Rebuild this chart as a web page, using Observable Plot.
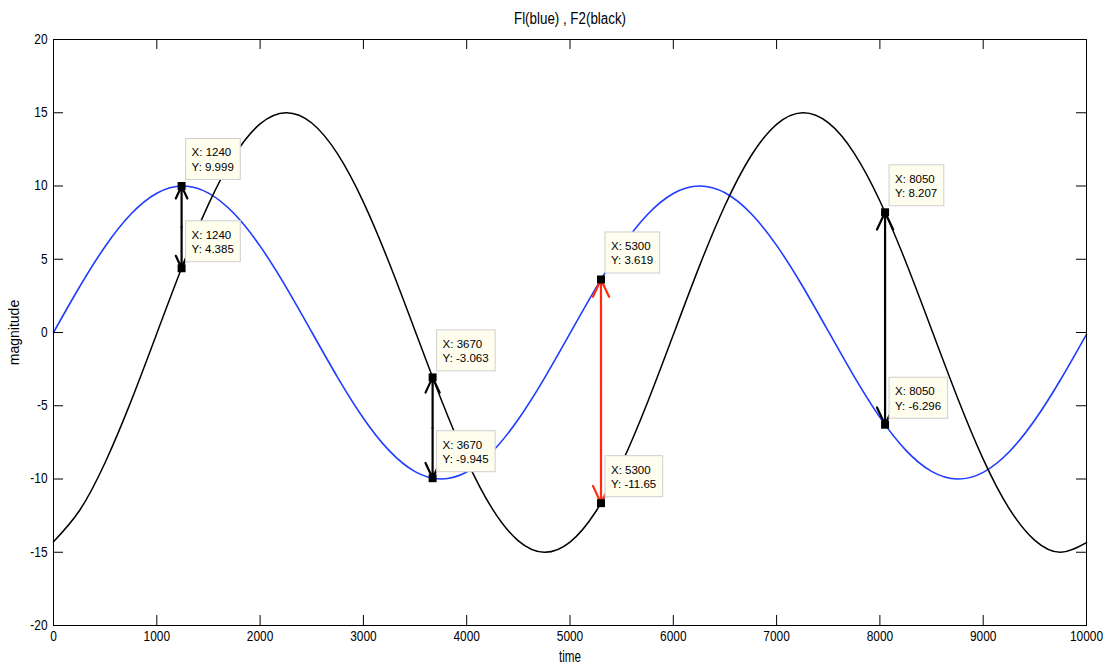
<!DOCTYPE html>
<html><head><meta charset="utf-8">
<script src="https://cdn.jsdelivr.net/npm/d3@7"></script>
<script src="https://cdn.jsdelivr.net/npm/@observablehq/plot@0.6"></script>
<style>
body{margin:0;background:#fff;}
</style></head><body><div id="chart"></div>
<script>
const time = [0,250,500,750,1000,1250,1500,1750,2000,2250,2500,2750,3000,3250,3500,3750,4000,4250,4500,4750,5000,5250,5500,5750,6000,6250,6500,6750,7000,7250,7500,7750,8000,8250,8500,8750,9000,9250,9500,9750,10000];
const f1 = [0,3.087,5.874,8.087,9.507,10.0,9.516,8.104,5.898,3.116,0.031,-3.057,-5.848,-8.066,-9.497,-10.0,-9.526,-8.122,-5.924,-3.147,-0.063,3.027,5.821,8.05,9.487,10.0,9.536,8.139,5.948,3.176,0.094,-2.997,-5.795,-8.029,-9.477,-9.999,-9.545,-8.158,-5.972,-3.206,-0.126];
const f2 = [-14.28,-12.17,-8.87,-4.70,-0.07,4.57,8.75,12.08,14.24,15.0,14.30,12.19,8.90,4.74,0.12,-4.52,-8.71,-12.06,-14.22,-15.0,-14.31,-12.22,-8.94,-4.78,-0.16,4.48,8.67,12.03,14.21,15.0,14.32,12.25,8.98,4.83,0.21,-4.43,-8.64,-12.0,-14.19,-15.0,-14.34];
const xTicks = [0,1000,2000,3000,4000,5000,6000,7000,8000,9000,10000];
const yTicks = [-20,-15,-10,-5,0,5,10,15,20];
const tipX = [1240,1240,3670,3670,5300,5300,8050,8050];
const tipY = [9.999,4.385,-3.063,-9.945,3.619,-11.65,8.207,-6.296];
const tipYLabel = ["9.999","4.385","-3.063","-9.945","3.619","-11.65","8.207","-6.296"];
const arrowX = [1240,3670,5300,8050];
const arrowLow = [4.385,-9.945,-11.65,-6.296];
const arrowHigh = [9.999,-3.063,3.619,8.207];
const arrowColor = ["black","black","#ff2a10","black"];
const titleText = "Fl(blue) , F2(black)";
const xLabel = "time";
const yLabel = "magnitude";

const lineData1 = time.map((t,i)=>({t, v:f1[i]}));
const lineData2 = time.map((t,i)=>({t, v:f2[i]}));
const tips = tipX.map((x,i)=>({x, y:tipY[i], label:`X: ${x}\nY: ${tipYLabel[i]}`}));
const arrows = arrowX.map((x,i)=>({x, lo:arrowLow[i], hi:arrowHigh[i], mid:(arrowLow[i]+arrowHigh[i])/2, c:arrowColor[i]}));

const W = 1107, H = 671, ML = 53, MR = 21, MT = 39, MB = 46;
const PW = W-ML-MR, PH = H-MT-MB;
const TL = 10;
const FONT = "Liberation Sans";
const tipFontSize = 11.5;
const tickFontSize = 14;

const measureCtx = document.createElement("canvas").getContext("2d");
function textW(s, size){ measureCtx.font = `${size}px '${FONT}'`; return measureCtx.measureText(s).width; }

function tipBoxes(...args) {
  const s = args.find(a => a && typeof a.x === "function" && typeof a.y === "function");
  const g = d3.create("svg:g").attr("aria-label", "tip boxes");
  for (const d of tips) {
    const px = s.x(d.x), py = s.y(d.y);
    const w = Math.max(...d.label.split("\n").map(l => textW(l, tipFontSize)));
    g.append("rect")
      .attr("x", px + 4.5).attr("y", py - 47)
      .attr("width", w + 12.5).attr("height", 41)
      .attr("fill", "#fffdee").attr("stroke", "#cfcfcf").attr("stroke-width", 1);
  }
  return g.node();
}

const chart = Plot.plot({
  width: W, height: H,
  marginLeft: ML, marginRight: MR, marginTop: MT, marginBottom: MB,
  style: {background:"#fff", overflow:"visible", fontFamily: FONT},
  x: {domain:[0,10000]},
  y: {domain:[-20,20]},
  marks: [
    Plot.line(lineData1, {x:"t", y:"v", stroke:"#1f3cff", strokeWidth:1.6, curve:"natural"}),
    Plot.line(lineData2, {x:"t", y:"v", stroke:"#000", strokeWidth:1.5, curve:"natural"}),
    Plot.frame({stroke:"#000", strokeWidth:1}),
    Plot.tickX(xTicks, {x:d=>d, insetBottom:PH-TL, stroke:"#000"}),
    Plot.tickX(xTicks, {x:d=>d, insetTop:PH-TL, stroke:"#000"}),
    Plot.tickY(yTicks, {y:d=>d, insetRight:PW-TL, stroke:"#000"}),
    Plot.tickY(yTicks, {y:d=>d, insetLeft:PW-TL, stroke:"#000"}),
    Plot.axisX(xTicks, {anchor:"bottom", tickSize:0, tickPadding:6, tickFormat:d=>String(d), label:null, fontSize:tickFontSize}),
    Plot.axisY(yTicks, {anchor:"left", tickSize:0, tickPadding:6, tickFormat:d=>String(d), label:null, fontSize:tickFontSize}),
    Plot.text([titleText], {text:d=>d, frameAnchor:"top", lineAnchor:"middle", dy:-21, fontSize:16, fill:"#000"}),
    Plot.text([xLabel], {text:d=>d, frameAnchor:"bottom", lineAnchor:"middle", dy:31, fontSize:16, fill:"#000"}),
    Plot.text([yLabel], {text:d=>d, frameAnchor:"middle", textAnchor:"middle", lineAnchor:"middle", dx:-(PW/2)-39, rotate:-90, fontSize:14, fill:"#000"}),
    Plot.arrow(arrows, {x1:"x", x2:"x", y1:"mid", y2:"hi", stroke:d=>d.c, strokeWidth:2.2, headLength:13, headAngle:50}),
    Plot.arrow(arrows, {x1:"x", x2:"x", y1:"mid", y2:"lo", stroke:d=>d.c, strokeWidth:2.2, headLength:13, headAngle:50}),
    Plot.dot(tips, {x:"x", y:"y", symbol:"square", r:4.5, fill:"#000", stroke:"none"}),
    tipBoxes,
    Plot.text(tips, {x:"x", y:"y", text:"label", textAnchor:"start", lineAnchor:"middle", dx:10, dy:-27, fontSize:tipFontSize, lineHeight:1.27, fill:"#000"})
  ]
});
document.getElementById("chart").appendChild(chart);

// condense axis / title texts (the reference uses a narrow face)
function condense(sel, ratio, size) {
  chart.querySelectorAll(sel).forEach(t => {
    t.setAttribute("textLength", textW(t.textContent, size) * ratio);
    t.setAttribute("lengthAdjust", "spacingAndGlyphs");
  });
}
condense('g[aria-label="x-axis tick label"] text', 0.85, tickFontSize);
condense('g[aria-label="y-axis tick label"] text', 0.85, tickFontSize);
chart.querySelectorAll('g[aria-label="text"] text').forEach(t => {
  const fixed = {[titleText]:112, [xLabel]:22}[t.textContent];
  if (fixed) { t.setAttribute("textLength", fixed); t.setAttribute("lengthAdjust", "spacingAndGlyphs"); }
});
</script></body></html>
